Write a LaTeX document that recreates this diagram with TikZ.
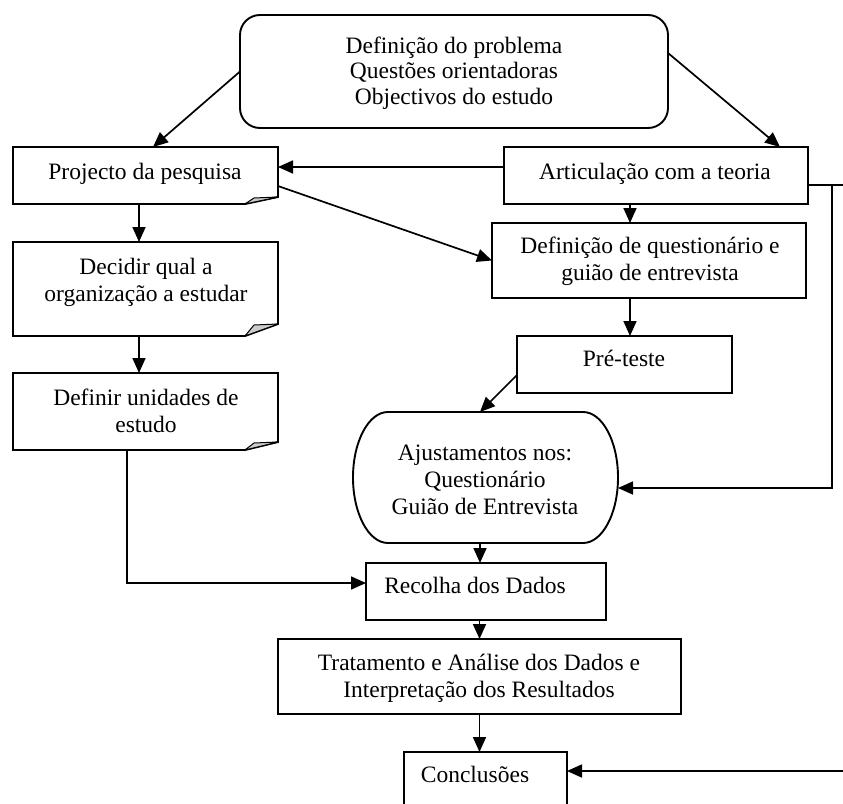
\documentclass[tikz,border=0pt]{standalone}
\usepackage{fontspec}
\setmainfont{Liberation Serif}
\usetikzlibrary{arrows.meta}
\begin{document}
\begin{tikzpicture}[x=1pt,y=-1pt,
  shapebox/.style={draw=none, inner sep=0pt, outer sep=0pt, anchor=north west},
  plainbox/.style={draw, line width=1.9pt, inner sep=0pt, outer sep=0pt, anchor=north west},
  docline/.style={draw, line width=1.9pt, line join=miter},
  fold/.style={draw, fill=gray!40, line width=1pt, line join=round},
  lbl/.style={inner sep=0pt, anchor=base, align=center, font=\fontsize{23.5}{27}\selectfont},
  conn/.style={line width=1.7pt, -{Triangle[length=15pt,width=13pt]}},
  wire/.style={line width=1.7pt}]
\path[use as bounding box] (0,0) rectangle (843,803);
\fill[white] (0,0) rectangle (843,803);
\clip (0,0) rectangle (843,803);

% boxes
\node[plainbox, rounded corners=20pt, minimum width=428pt, minimum height=113pt] (top) at (240,15) {};
\node[shapebox, minimum width=265pt, minimum height=57pt] (proj) at (13,147) {};
\node[shapebox, minimum width=265pt, minimum height=94pt] (dec) at (13,242) {};
\node[shapebox, minimum width=265pt, minimum height=77pt] (uni) at (13,373) {};
\node[plainbox, minimum width=304pt, minimum height=57pt] (art) at (504,147) {};
\node[plainbox, minimum width=314pt, minimum height=75pt] (def) at (492,223) {};
\node[plainbox, minimum width=215pt, minimum height=57pt] (pre) at (517,336) {};
\node[shapebox, minimum width=265pt, minimum height=131pt] (adj) at (353,412) {};
\node[plainbox, minimum width=240pt, minimum height=57pt] (rec) at (366,563) {};
\node[plainbox, minimum width=403pt, minimum height=75pt] (trat) at (278,639) {};
\node[plainbox, minimum width=163pt, minimum height=57pt] (conc) at (404,752) {};

% folded-corner boxes
\foreach \n/\h in {proj/7, dec/12, uni/8}{
  \draw[docline] (\n.north west) -- (\n.north east) -- ([yshift=\h pt]\n.south east)
     -- ([xshift=-33pt]\n.south east) -- (\n.south west) -- cycle;
  \draw[fold] ([xshift=-33pt]\n.south east) -- ([xshift=-24pt,yshift=\h pt-1pt]\n.south east)
     -- ([yshift=\h pt]\n.south east) -- cycle;
}

% rounded-side box
\draw[docline] ([xshift=35pt]adj.north west) -- ([xshift=-35pt]adj.north east)
   arc[start angle=90, end angle=-90, x radius=35pt, y radius=65.5pt]
   -- ([xshift=35pt]adj.south west)
   arc[start angle=270, end angle=90, x radius=35pt, y radius=65.5pt] -- cycle;

% texts (anchor = baseline of the last line)
\node[lbl, font=\fontsize{23.5}{25.5}\selectfont] (ttop) at (454,104) {Definição do problema\\Questões orientadoras\\Objectivos do estudo};
\node[lbl] (tproj) at (145,179) {Projecto da pesquisa};
\node[lbl] (tdec) at (146,301) {Decidir qual a\\organização a estudar};
\node[lbl] (tuni) at (146,432) {Definir unidades de\\estudo};
\node[lbl] (tart) at (655,179) {Articulação com a teoria};
\node[lbl] (tdef) at (650,280) {Definição de questionário e\\guião de entrevista};
\node[lbl] (tpre) at (624,366) {Pré-teste};
\node[lbl] (tadj) at (485,514) {Ajustamentos nos:\\Questionário\\Guião de Entrevista};
\node[lbl] (trec) at (475,593) {Recolha dos Dados};
\node[lbl] (ttrat) at (479,697) {Tratamento e Análise dos Dados e\\Interpretação dos Resultados};
\node[lbl] (tconc) at (475,782) {Conclusões};

% free ends
\coordinate (edgeA) at (843,185);
\coordinate (bend) at (832,185);
\coordinate (edgeB) at (843,771);

% connectors
\draw[conn] (top.west) -- ([xshift=7.5pt]proj.north);
\draw[conn] ([yshift=18.5pt]top.east) -- ([xshift=124pt]art.north);
\draw[conn] ([yshift=8.5pt]art.west) -- ([yshift=8.5pt]proj.east);
\draw[conn] ([yshift=-10.5pt]proj.east) -- (def.west);
\draw[conn] ([xshift=-26pt]art.south) -- ([xshift=-26pt]art.south |- def.north);
\draw[conn] ([xshift=-19pt]def.south) -- ([xshift=-19pt]def.south |- pre.north);
\draw[conn] ([yshift=-10.5pt]pre.west) -- ([xshift=-5.5pt]adj.north);
\draw[wire] ([yshift=-9.5pt]art.east) -- (edgeA);
\draw[conn] (bend) |- ([yshift=-10.5pt]adj.east);
\draw[conn] ([xshift=-6.5pt]proj.south) -- ([xshift=-6.5pt]proj.south |- dec.north);
\draw[conn] ([xshift=-6.5pt]dec.south) -- ([xshift=-6.5pt]dec.south |- uni.north);
\draw[conn] ([xshift=-18.5pt]uni.south) |- ([yshift=8.5pt]rec.west);
\draw[conn] ([xshift=-5.5pt]adj.south) -- ([xshift=-5.5pt]adj.south |- rec.north);
\draw[conn] (trat.north |- rec.south) -- (trat.north);
\draw[conn] (trat.south) -- (trat.south |- conc.north);
\draw[conn] (edgeB) -- (conc.east |- edgeB);
\end{tikzpicture}
\end{document}
